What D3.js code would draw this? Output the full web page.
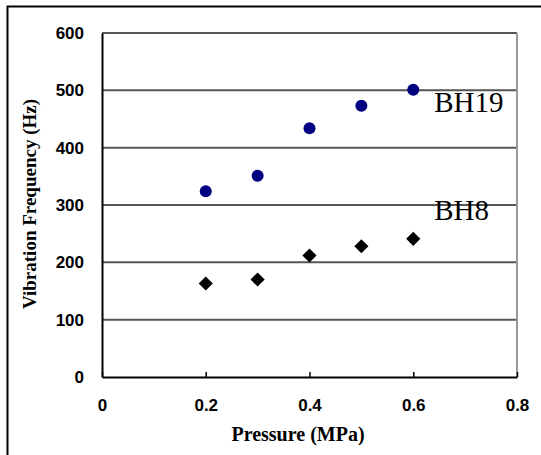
<!DOCTYPE html>
<html>
<head>
<meta charset="utf-8">
<script src="https://cdn.jsdelivr.net/npm/d3@7"></script>
<style>
	body { margin: 0; background: #fff; }
	svg { display: block; }
</style>
</head>
<body>
<svg id="chart"></svg>
<script>
const pressure = [0.2, 0.3, 0.4, 0.5, 0.6];
const bh19 = [324, 351, 434, 473, 501];
const bh8 = [163, 170, 212, 228, 241];
const xTicks = [0, 0.2, 0.4, 0.6, 0.8];
const yTicks = [0, 100, 200, 300, 400, 500, 600];

const W = 541, H = 455;
const margin = {top: 33, right: 24, bottom: 78, left: 102};
const width = W - margin.left - margin.right;
const height = H - margin.top - margin.bottom;

const svg = d3.select("#chart").attr("width", W).attr("height", H);

// outer frame
svg.append("rect")
	.attr("x", 7.5).attr("y", 6.5)
	.attr("width", W).attr("height", H)
	.attr("fill", "none").attr("stroke", "#000").attr("stroke-width", 2);

const x = d3.scaleLinear().domain([0, 0.8]).range([0, width]);
const y = d3.scaleLinear().domain([0, 600]).range([height, 0]);

const g = svg.append("g").attr("transform", `translate(${margin.left}, ${margin.top})`);

// gridlines
g.selectAll("line.grid")
	.data(yTicks.filter(d => d > 0))
	.join("line")
	.attr("class", "grid")
	.attr("x1", 0).attr("x2", width)
	.attr("y1", d => y(d)).attr("y2", d => y(d))
	.attr("stroke", "#555").attr("stroke-width", 2);

// right border
g.append("line")
	.attr("x1", width).attr("x2", width)
	.attr("y1", 0).attr("y2", height)
	.attr("stroke", "#999").attr("stroke-width", 2);

// axes
const xAxis = g.append("g")
	.attr("transform", `translate(0, ${height})`)
	.call(d3.axisBottom(x).tickValues(xTicks).tickSizeInner(-5).tickSizeOuter(0).tickPadding(22).tickFormat(d => d === 0 ? "0" : d3.format(".1f")(d)));

const yAxis = g.append("g")
	.call(d3.axisLeft(y).tickValues(yTicks).tickSize(0).tickPadding(18).tickFormat(d3.format("d")));

[xAxis, yAxis].forEach(a => {
	a.select(".domain").attr("stroke", "#000").attr("stroke-width", 2);
	a.selectAll(".tick line").attr("stroke", "#000").attr("stroke-width", 1.5);
	a.selectAll("text")
		.attr("font-family", "Liberation Sans, Arial, sans-serif")
		.attr("font-weight", "bold")
		.attr("font-size", 17)
		.attr("fill", "#000");
});

// BH19 circles
g.selectAll("circle.bh19")
	.data(pressure.map((p, i) => [p, bh19[i]]))
	.join("circle")
	.attr("class", "bh19")
	.attr("cx", d => x(d[0])).attr("cy", d => y(d[1]))
	.attr("r", 6)
	.attr("fill", "#000080");

// BH8 diamonds
g.selectAll("path.bh8")
	.data(pressure.map((p, i) => [p, bh8[i]]))
	.join("path")
	.attr("class", "bh8")
	.attr("transform", d => `translate(${x(d[0])}, ${y(d[1])}) rotate(45)`)
	.attr("d", d3.symbol().type(d3.symbolSquare).size(100))
	.attr("fill", "#000");

// series labels
const serif = "Liberation Serif, Times New Roman, serif";
g.append("text")
	.attr("x", x(0.6) + 21).attr("y", y(501) + 22)
	.attr("font-family", serif).attr("font-size", 29)
	.text("BH19");
g.append("text")
	.attr("x", x(0.6) + 21).attr("y", y(241) - 19)
	.attr("font-family", serif).attr("font-size", 29)
	.text("BH8");

// axis titles
svg.append("text")
	.attr("x", 298).attr("y", 441)
	.attr("text-anchor", "middle")
	.attr("font-family", serif).attr("font-weight", "bold").attr("font-size", 20)
	.text("Pressure (MPa)");

svg.append("text")
	.attr("transform", `translate(36, 204) rotate(-90)`)
	.attr("text-anchor", "middle")
	.attr("font-family", serif).attr("font-weight", "bold").attr("font-size", 19)
	.text("Vibration Frequency (Hz)");
</script>
</body>
</html>
